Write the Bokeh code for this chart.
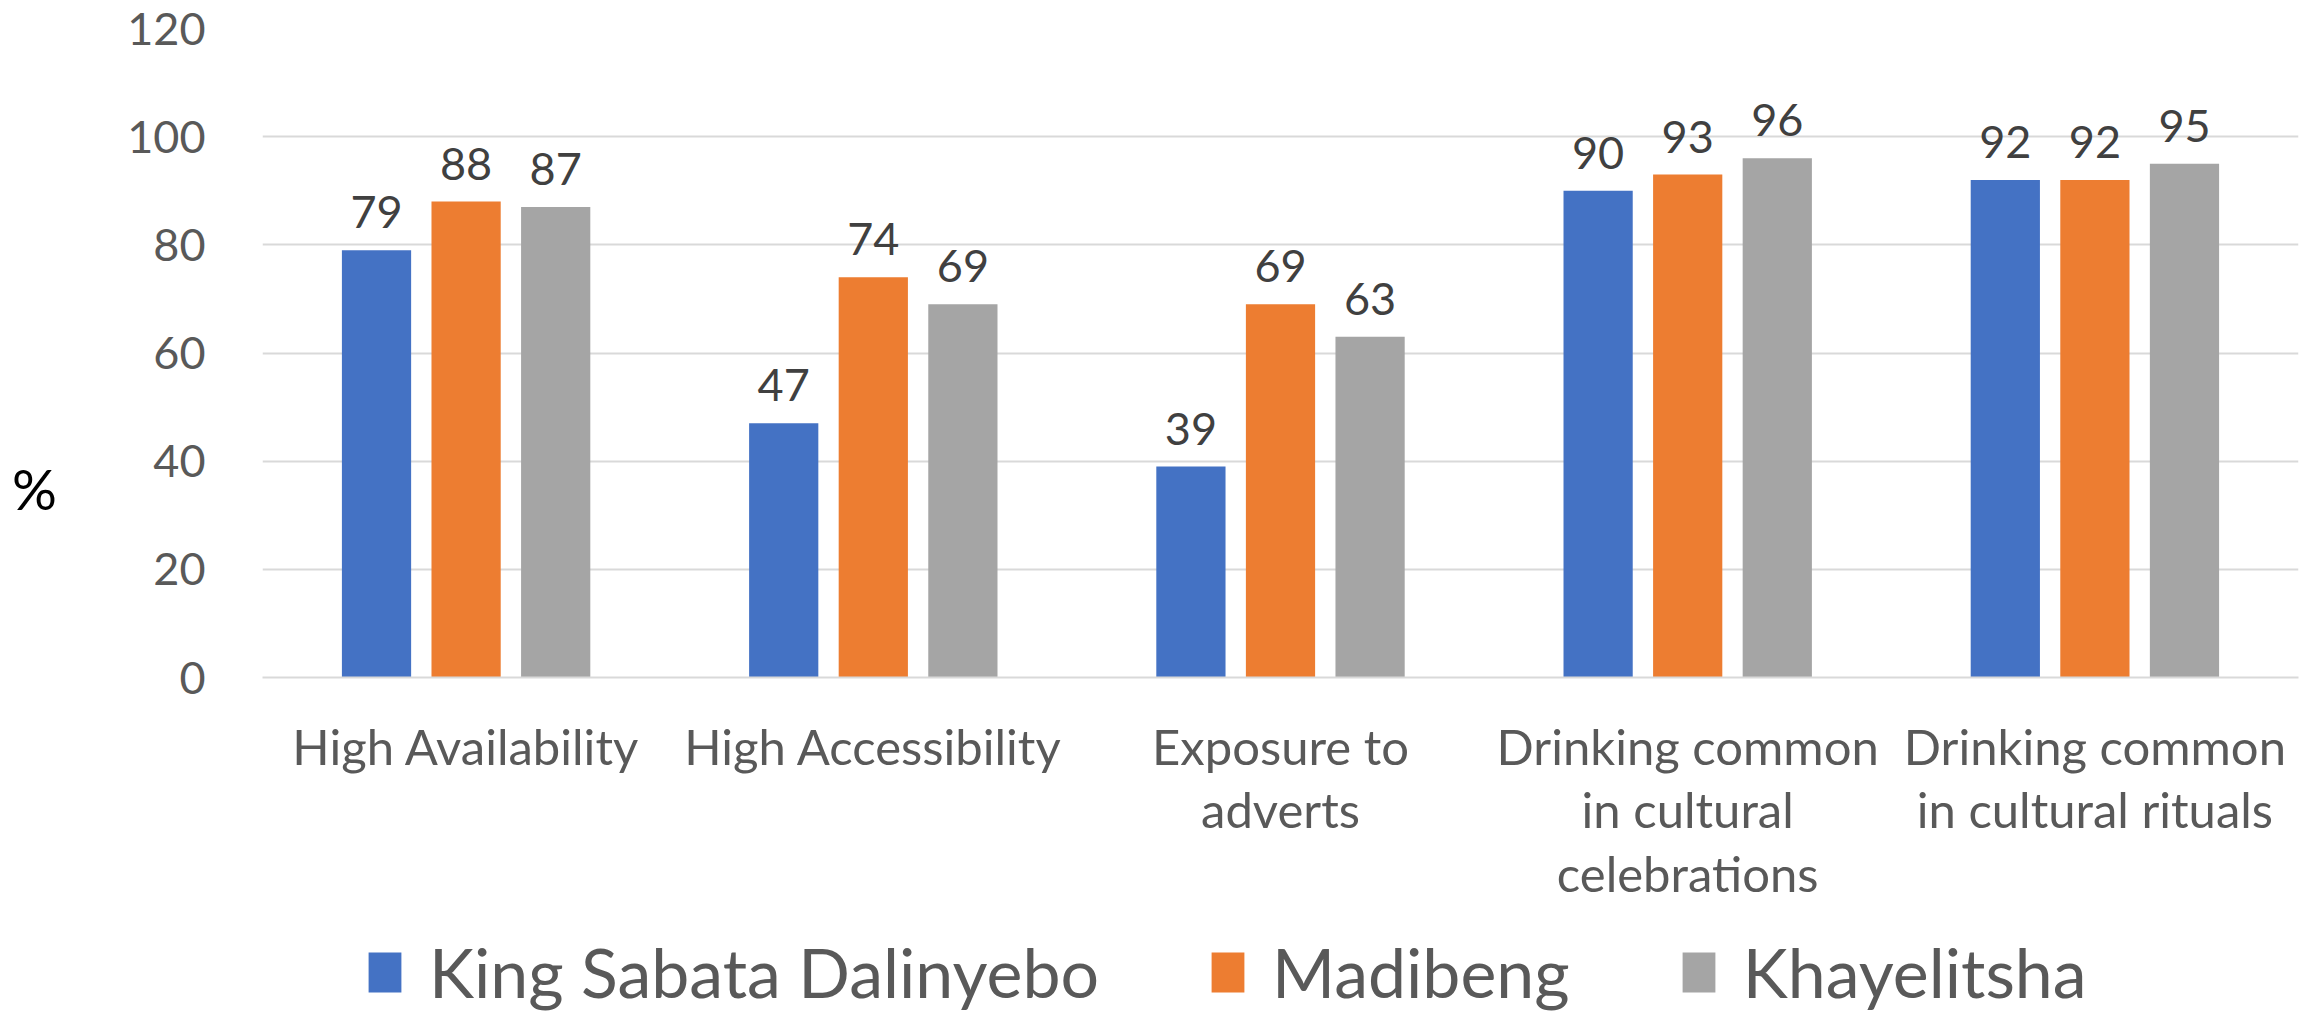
from bokeh.plotting import figure
from bokeh.models import ColumnDataSource, FactorRange, Range1d, Legend, LegendItem, Label, SingleIntervalTicker
from bokeh.layouts import column, row
from bokeh.transform import dodge
from bokeh.core.properties import value
from bokeh.embed import file_html
from bokeh.resources import INLINE

categories = ["High Availability", "High Accessibility", "Exposure to\nadverts",
              "Drinking common\nin cultural\ncelebrations", "Drinking common\nin cultural rituals"]
series_names = ["King Sabata Dalinyebo", "Madibeng", "Khayelitsha"]
ksd = [79, 47, 39, 90, 92]
madibeng = [88, 74, 69, 93, 92]
khayelitsha = [87, 69, 63, 96, 95]
colors = ["#4472C4", "#ED7D31", "#A5A5A5"]
offsets = [-0.22, 0.0, 0.22]

FONT = "Lato"
TOP, BOTTOM = 28, 235
H_MAIN = 912

source = ColumnDataSource(data=dict(cat=categories, ksd=ksd, madibeng=madibeng, khayelitsha=khayelitsha,
                                    ksd_t=[str(v) for v in ksd], mad_t=[str(v) for v in madibeng],
                                    kha_t=[str(v) for v in khayelitsha]))

# ---- "%" label panel (left), frame aligned with the main chart's frame ----
pf = figure(width=120, height=H_MAIN, x_range=Range1d(0, 120), y_range=Range1d(0, 120),
            x_axis_type=None, y_axis_type=None, output_backend="svg", toolbar_location=None,
            min_border_left=0, min_border_right=0, min_border_top=TOP, min_border_bottom=BOTTOM)
pf.outline_line_color = None
pf.grid.visible = False
pf.add_layout(Label(x=34, y=35, text="%", text_align="center", text_baseline="middle",
                    text_font=FONT, text_font_size="56px", text_color="black"))

# ---- main chart ----
p = figure(width=2305 - 120, height=H_MAIN, x_range=FactorRange(*categories), y_range=Range1d(0, 120),
           output_backend="svg", toolbar_location=None,
           min_border_left=142, min_border_right=7, min_border_top=TOP, min_border_bottom=BOTTOM)
p.outline_line_color = None
p.background_fill_color = "white"
p.border_fill_color = "white"

for col, tcol, color, off in zip(["ksd", "madibeng", "khayelitsha"], ["ksd_t", "mad_t", "kha_t"], colors, offsets):
    p.vbar(x=dodge("cat", off, range=p.x_range), top=col, width=0.17, source=source,
           fill_color=color, line_color=None)
    p.text(x=dodge("cat", off, range=p.x_range), y=col, text=tcol, source=source,
           text_align="center", text_baseline="alphabetic", y_offset=-38,
           text_font=value(FONT), text_font_size="45px", text_color="#404040")

p.yaxis.ticker = SingleIntervalTicker(interval=20)
p.yaxis.axis_line_color = None
p.yaxis.major_tick_line_color = None
p.yaxis.minor_tick_line_color = None
p.yaxis.major_label_text_font = FONT
p.yaxis.major_label_text_font_size = "45px"
p.yaxis.major_label_text_color = "#595959"
p.yaxis.major_label_standoff = 51

p.xaxis.axis_line_color = "#d9d9d9"
p.xaxis.axis_line_width = 2
p.xaxis.major_tick_line_color = None
p.xaxis.minor_tick_line_color = None
p.xaxis.major_label_text_font = FONT
p.xaxis.major_label_text_font_size = "49px"
p.xaxis.major_label_text_color = "#595959"
p.xaxis.major_label_standoff = 33
p.xaxis.major_label_text_line_height = 1.1

p.xgrid.grid_line_color = None
p.ygrid.grid_line_color = "#d9d9d9"
p.ygrid.grid_line_width = 2

# ---- legend panel (bottom) ----
lf = figure(width=2305, height=1012 - H_MAIN, x_range=Range1d(0, 2305), y_range=Range1d(0, 100),
            x_axis_type=None, y_axis_type=None, output_backend="svg", toolbar_location=None,
            min_border=0)
lf.outline_line_color = None
lf.grid.visible = False
# zero-height swatches: only used to give each legend entry its colour
legend_renderers = [lf.vbar(x=[0], top=[0], width=0, fill_color=c, line_color=None) for c in colors]
legend = Legend(items=[LegendItem(label=n, renderers=[r]) for n, r in zip(series_names, legend_renderers)],
                orientation="horizontal", location=(364, 0),
                label_text_font=FONT, label_text_font_size="68px", label_text_color="#595959",
                glyph_width=41, glyph_height=50, label_standoff=24, spacing=108,
                padding=0, margin=0, border_line_color=None, background_fill_alpha=0)
lf.add_layout(legend, "center")

layout = column(row(pf, p), lf)
open("out.html", "w").write(file_html(layout, INLINE))
